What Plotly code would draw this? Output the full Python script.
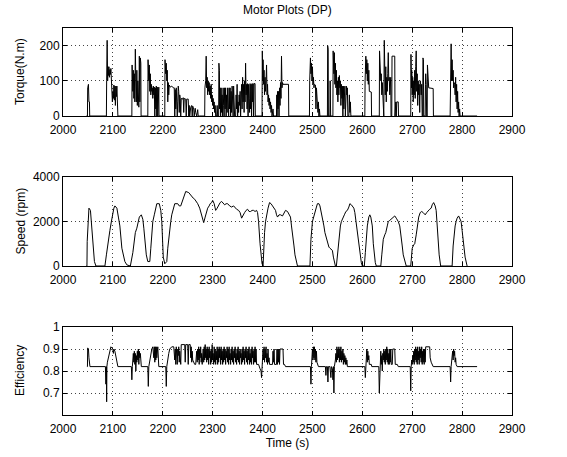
import plotly.graph_objects as go

# ---------------- data ----------------
torque_pts = [
    (2047,0),(2049,0),(2049.5,80),(2051,90),(2052,40),(2053,40),(2053.5,0),
    (2087,0),(2087.5,100),(2088.5,215),(2089.5,100),(2090,140),(2091,115),(2092,140),(2093,110),(2094,132),
    (2095,118),(2096,135),(2097,100),(2098,60),(2099,40),(2100,70),(2101,50),(2102,88),(2103,45),(2104,85),
    (2105,30),(2106,85),(2107,55),(2108,85),(2109,20),(2110,0),
    (2138,0),(2138.5,145),(2140,70),(2141,130),(2142,50),(2143,120),(2144,40),(2145,190),(2146,100),(2147,40),
    (2148,130),(2149,30),(2150,100),(2151,60),(2152,25),(2153,170),(2154,40),(2155,165),(2156,150),(2156.5,0),
    (2170,0),(2170.5,160),(2172,100),(2173,145),(2174,70),(2175,120),(2176,60),(2177,90),(2178,70),(2179,80),
    (2180,50),(2181,85),(2182,60),(2183,82),(2184,0),(2185,80),(2186,20),(2187,85),(2188,0),(2189,82),(2190,0),
    (2191,82),(2192,82),(2192.5,0),
    (2204,0),(2204.5,160),(2206,120),(2207,150),(2208,100),(2209,130),(2210,40),(2211,95),(2212,60),(2213,88),
    (2215,82),(2218,85),(2221,80),(2223,80),(2224,0),(2225,75),(2226,20),(2227,80),(2228,50),(2229,0),(2230,40),
    (2231,85),(2232,70),(2233,10),(2234,60),(2235,50),(2236,0),(2237,50),(2240,48),(2241,52),(2242,10),(2243,50),
    (2246,48),(2247,0),(2248,48),(2251,48),(2252,0),(2253,30),(2254,0),(2256,25),(2258,30),(2259,0),(2260,28),
    (2262,20),(2263,0),(2265,22),(2266,10),(2268,0),(2270,18),(2271,0),(2274,0),
    (2284,0),(2284.5,80),(2286,100),(2287,170),(2288,80),(2289,110),(2290,60),(2291,100),(2292,70),(2293,95),
    (2294,60),(2295,85),(2296,50),(2297,90),(2298,40),(2299,60),(2300,30),(2301,50),(2302,20),(2303,40),(2304,10),
    (2305,30),(2306,0),(2308,0),(2309,30),(2310,0),
    (2312,0),(2312.5,150),(2313.5,130),(2314,20),(2315,80),(2316,0),(2317,80),(2318,10),(2319,60),(2320,0),
    (2321,80),(2322,30),(2323,0),(2324,80),(2325,20),(2326,80),(2327,0),(2328,60),(2329,10),(2330,80),(2331,40),
    (2332,0),(2333,80),(2334,20),(2335,80),(2336,0),(2337,70),(2338,10),(2339,85),(2340,30),(2341,0),(2342,85),
    (2343,40),(2344,0),
    (2346,0),(2347,60),(2348,20),(2349,90),(2350,0),(2351,40),(2352,10),(2353,60),(2354,30),(2355,70),(2356,0),
    (2357,50),(2358,90),(2359,20),(2360,110),(2361,40),(2362,90),(2363,10),(2364,100),(2365,40),(2366,150),
    (2367,60),(2368,90),(2369,20),(2370,92),(2371,0),(2372,90),(2373,50),(2374,10),(2375,92),(2376,20),(2377,90),
    (2378,0),(2379,92),(2380,40),(2381,92),(2382,0),(2383,92),(2385,92),(2385.5,0),
    (2399,0),(2399.5,185),(2400.5,100),(2401,160),(2402,90),(2403,130),(2404,60),(2405,110),(2406,70),(2407,100),
    (2408,145),(2409,60),(2410,90),(2411,40),(2412,60),(2413,30),(2414,50),(2415,20),(2416,40),(2417,10),
    (2418,30),(2419,0),(2421,20),(2422,0),(2425,0),
    (2428,0),(2428.5,60),(2429,0),(2430,70),(2431,20),(2432,70),(2433,0),(2434,80),(2435,30),(2436,95),(2437,50),
    (2438,170),(2439,80),(2440,95),(2441,90),(2452,90),(2452.5,0),
    (2494,0),(2494.5,100),(2496,165),(2497,120),(2498,150),(2499,100),(2500,140),(2501,90),(2502,110),(2503,80),
    (2504,90),(2506,88),(2507,20),(2508,80),(2509,40),(2510,60),(2511,10),(2512,40),(2513,0),(2514,20),(2515,0),
    (2530,0),(2530.5,200),(2531.5,190),(2532,0),(2535,0),(2535.5,100),(2536.5,0),(2541,0),(2541.5,185),
    (2543,120),(2544,180),(2545,90),(2546,150),(2547,80),(2548,130),(2549,60),(2550,100),(2551,40),(2552,110),
    (2553,60),(2554,115),(2555,80),(2556,100),(2557,30),(2558,90),(2559,50),(2560,85),(2561,0),(2562,85),
    (2563,20),(2564,85),(2565,85),(2566,0),(2568,85),(2569,60),(2570,80),(2571,0),(2573,0),(2574,60),(2575,10),
    (2576,40),(2577,0),(2580,0),
    (2605,0),(2605.5,100),(2607,170),(2608,120),(2609,160),(2610,100),(2611,150),(2612,90),(2613,130),(2614,70),
    (2615,70),(2618,68),(2618.5,0),
    (2634,0),(2634.5,185),(2635.5,100),(2636,150),(2637,100),(2638,120),(2639,60),(2640,95),(2641,50),(2642,40),
    (2643,0),(2644,215),(2645,100),(2646,60),(2647,140),(2648,40),(2649,110),(2650,70),(2651,120),(2652,180),
    (2653,100),(2654,110),(2655,60),(2656,110),(2657,110),(2657.5,0),(2659,0),(2659.5,170),(2665,170),
    (2665.5,0),(2667,40),(2668,0),(2669,40),(2672,40),(2672.5,0),
    (2697,0),(2697.5,175),(2698.5,80),(2699,130),(2700,60),(2701,110),(2702,40),(2703,100),(2704,60),(2705,130),
    (2706,50),(2707,140),(2708,185),(2709,70),(2710,120),(2711,30),(2712,100),(2713,60),(2714,90),(2715,10),
    (2716,100),(2717,90),(2718,60),(2719,90),(2720,0),(2721,0),(2721.5,165),(2722.5,160),(2723,0),(2726,0),
    (2726.5,90),(2727,120),(2728,90),(2729,0),(2730,0),(2730.5,145),(2731.5,85),(2733,80),(2742,78),(2742.5,0),
    (2776,0),(2776.5,170),(2777.5,150),(2778,205),(2779,100),(2780,160),(2781,100),(2782,130),(2783,80),
    (2784,95),(2785,90),(2786,60),(2787,110),(2788,40),(2789,90),(2790,20),(2791,70),(2792,10),(2793,40),
    (2794,0),(2795,20),(2796,0),(2830,0),
]

speed_pts = [
    (2047,0),(2048,0),(2048.5,1100),(2050,2000),(2052,2600),(2055,2500),(2058,1600),(2060,1000),(2063,200),(2066,0),
    (2084,0),(2087,500),(2090,1100),(2094,1600),(2097,2000),(2100,2400),(2102,2600),(2104,2700),(2108,2600),
    (2111,2200),(2114,1800),(2118,800),(2121,400),(2124,200),(2128,50),(2132,0),
    (2135,0),(2140,600),(2145,1500),(2148,1700),(2153,2200),(2157,2300),(2160,2100),(2162,1700),(2165,900),
    (2167,500),(2170,200),(2174,200),(2176,800),(2178,1500),(2180,2000),(2183,2300),(2186,2600),(2188,2800),
    (2193,2800),(2196,2500),(2198,2000),(2199,1500),(2201,400),(2204,100),(2208,200),(2210,800),(2213,1500),
    (2216,2000),(2218,2300),(2221,2600),(2224,2800),(2230,2800),(2233,2700),(2236,2700),(2240,3000),
    (2243,3200),(2246,3350),(2252,3300),(2255,3200),(2258,3100),(2261,3050),(2264,3000),(2267,2900),
    (2270,2800),(2274,2600),(2277,2300),(2280,2000),(2282,1950),(2285,2200),(2288,2500),(2290,2600),
    (2293,2700),(2295,2800),(2298,2850),(2300,2950),(2303,2800),(2306,2500),(2309,2600),(2312,2750),
    (2315,2850),(2318,2900),(2321,2800),(2324,2750),(2327,2800),(2330,2800),(2334,2700),(2338,2650),
    (2342,2700),(2345,2600),(2348,2550),(2352,2500),(2355,2400),(2358,2150),(2361,2300),(2364,2400),
    (2367,2500),(2370,2550),(2373,2450),(2376,2450),(2379,2500),(2382,2500),(2385,2450),(2388,2500),
    (2390,2400),(2392,2000),(2395,1000),(2397,500),(2399,100),(2401,0),(2402,800),(2404,1500),(2406,2000),
    (2408,2300),(2411,2600),(2414,2850),(2417,2800),(2420,2700),(2423,2600),(2426,2500),(2428,2300),
    (2430,2200),(2433,2300),(2436,2300),(2440,2250),(2443,2400),(2446,2500),(2450,2450),(2453,2350),
    (2456,2200),(2458,1800),(2460,1500),(2463,900),(2465,500),(2468,150),(2470,0),
    (2495,0),(2497,1200),(2500,2000),(2503,2300),(2505,2400),(2508,2650),(2510,2800),(2513,2800),
    (2515,2700),(2518,2400),(2520,2200),(2523,1800),(2525,1500),(2528,1200),(2530,1000),(2533,850),
    (2535,800),(2538,750),(2540,700),(2542,400),(2543,300),(2546,0),
    (2548,0),(2550,500),(2552,1000),(2554,1500),(2556,1800),(2558,2000),(2561,2200),(2564,2300),(2567,2450),
    (2570,2500),(2573,2650),(2575,2800),(2578,2750),(2580,2700),(2583,2600),(2585,2400),(2588,1900),
    (2590,1500),(2593,900),(2595,500),(2598,150),(2600,0),
    (2604,0),(2606,600),(2608,1200),(2610,1800),(2613,2200),(2615,2300),(2617,2200),(2620,1800),(2622,1000),
    (2624,500),(2626,150),(2628,0),
    (2637,0),(2639,500),(2642,1200),(2645,1400),(2647,1500),(2650,1800),(2652,2000),(2655,2050),(2658,2100),
    (2662,2200),(2665,2250),(2668,2150),(2672,2000),(2675,1800),(2677,1500),(2680,900),(2682,500),
    (2685,200),(2688,0),
    (2697,0),(2699,500),(2700,800),(2703,950),(2705,1000),(2708,1400),(2710,1800),(2713,2200),(2716,2400),
    (2719,2450),(2722,2400),(2724,2350),(2726,2300),(2729,2400),(2732,2500),(2735,2550),(2738,2600),
    (2740,2750),(2743,2850),(2746,2700),(2748,2500),(2750,1800),(2752,1000),(2754,500),(2757,0),
    (2780,0),(2782,900),(2784,1600),(2786,1800),(2788,2000),(2790,2150),(2793,2250),(2796,2100),(2798,2000),
    (2800,1600),(2803,1000),(2806,400),(2810,0),
]

eff_pts = [
    (2048,0.82),(2049,0.82),(2049.5,0.905),(2051,0.90),(2052,0.86),(2053,0.83),(2054,0.82),(2085,0.82),
    (2086,0.74),(2087,0.82),(2087.5,0.66),(2088,0.82),(2089,0.84),(2090,0.85),(2092,0.87),(2094,0.89),
    (2096,0.91),(2098,0.905),(2100,0.90),(2101,0.88),(2102,0.90),(2104,0.89),(2106,0.86),(2108,0.85),
    (2110,0.82),(2137,0.82),(2138,0.76),(2139,0.82),(2140,0.86),(2141,0.88),(2142,0.84),(2143,0.89),
    (2144,0.83),(2145,0.88),(2146,0.80),(2147,0.87),(2148,0.84),(2149,0.89),(2150,0.85),(2151,0.90),
    (2152,0.83),(2153,0.89),(2154,0.86),(2155,0.88),(2156,0.84),(2157,0.82),(2170,0.82),(2171,0.73),
    (2172,0.82),(2174,0.85),(2176,0.87),(2178,0.90),(2180,0.91),(2182,0.86),(2183,0.91),(2184,0.84),
    (2185,0.91),(2186,0.85),(2187,0.91),(2188,0.86),(2190,0.91),(2191,0.84),(2192,0.82),(2206,0.82),
    (2207,0.73),(2208,0.82),(2210,0.86),(2212,0.88),(2214,0.90),(2218,0.91),(2222,0.91),(2224,0.85),
    (2225,0.90),(2226,0.83),(2227,0.91),(2228,0.86),(2229,0.83),(2230,0.90),(2231,0.87),(2232,0.91),
    (2233,0.84),(2234,0.89),(2235,0.85),(2236,0.83),(2237,0.92),(2244,0.92),(2245,0.84),(2246,0.92),
    (2250,0.92),(2251,0.83),(2252,0.92),(2255,0.92),(2256,0.86),(2257,0.91),(2258,0.84),(2259,0.89),
    (2260,0.85),(2262,0.84),(2264,0.83),(2266,0.83),
    (2268,0.89),(2269,0.84),(2270,0.90),(2271,0.85),(2272,0.91),(2273,0.83),(2274,0.90),(2275,0.86),
    (2276,0.91),(2277,0.84),(2278,0.88),(2279,0.83),(2280,0.86),(2281,0.90),(2282,0.84),(2283,0.91),
    (2284,0.85),(2285,0.92),(2286,0.86),(2287,0.90),(2288,0.84),(2289,0.91),(2290,0.85),(2291,0.90),
    (2292,0.83),(2293,0.91),(2294,0.86),(2295,0.89),(2296,0.83),(2297,0.90),(2298,0.84),(2299,0.92),
    (2300,0.85),(2301,0.88),(2302,0.83),(2303,0.91),(2304,0.84),(2305,0.90),(2306,0.83),(2307,0.89),
    (2308,0.85),(2309,0.91),(2310,0.83),(2311,0.90),(2312,0.84),(2313,0.91),(2314,0.86),(2315,0.90),
    (2316,0.83),(2317,0.91),(2318,0.85),(2319,0.89),(2320,0.83),(2321,0.90),(2322,0.84),(2323,0.91),
    (2324,0.85),(2325,0.90),(2326,0.83),(2327,0.89),(2328,0.86),(2329,0.91),(2330,0.84),(2331,0.90),
    (2332,0.83),(2333,0.91),(2334,0.85),(2335,0.88),(2336,0.83),(2337,0.90),(2338,0.85),(2339,0.91),
    (2340,0.84),(2341,0.89),(2342,0.83),(2343,0.90),(2344,0.86),(2345,0.91),(2346,0.84),(2347,0.88),
    (2348,0.83),(2349,0.90),(2350,0.85),(2351,0.91),(2352,0.84),(2353,0.89),(2354,0.83),(2355,0.90),
    (2356,0.86),(2357,0.88),(2358,0.83),(2359,0.90),(2360,0.84),(2361,0.91),(2362,0.85),(2363,0.89),
    (2364,0.83),(2365,0.90),(2366,0.86),(2367,0.91),(2368,0.84),(2369,0.89),(2370,0.83),(2371,0.90),
    (2372,0.85),(2373,0.91),(2374,0.83),(2375,0.88),(2376,0.84),(2377,0.90),(2378,0.83),(2379,0.91),
    (2380,0.86),(2381,0.89),(2382,0.83),(2383,0.90),(2384,0.84),(2385,0.91),(2386,0.84),(2387,0.90),
    (2388,0.83),(2389,0.83),(2392,0.83),(2395,0.81),(2397,0.80),(2398,0.77),(2399,0.82),(2400,0.86),
    (2401,0.90),(2402,0.85),(2403,0.91),(2404,0.84),(2405,0.90),(2406,0.86),(2407,0.91),(2408,0.84),
    (2409,0.88),(2410,0.83),(2411,0.90),(2412,0.84),(2413,0.86),(2414,0.83),(2420,0.83),(2421,0.89),
    (2422,0.84),(2423,0.90),(2424,0.83),(2428,0.83),(2429,0.90),(2430,0.83),(2431,0.90),(2432,0.84),
    (2433,0.90),(2434,0.83),(2435,0.90),(2441,0.90),(2442,0.83),(2444,0.83),(2446,0.82),
    (2496,0.82),(2497,0.74),(2498,0.82),(2499,0.86),(2500,0.90),(2501,0.85),(2502,0.91),(2503,0.86),
    (2504,0.91),(2505,0.85),(2506,0.90),(2507,0.84),(2508,0.89),(2509,0.84),(2510,0.83),(2512,0.82),
    (2526,0.82),(2527,0.78),(2528,0.82),(2530,0.82),(2531,0.75),(2532,0.82),(2535,0.82),(2536,0.80),
    (2537,0.77),(2538,0.82),(2540,0.81),(2541,0.76),(2542,0.82),(2543,0.70),(2544,0.82),(2546,0.85),
    (2547,0.88),(2548,0.84),(2549,0.91),(2550,0.85),(2551,0.90),(2552,0.86),(2553,0.91),(2554,0.84),
    (2555,0.90),(2556,0.85),(2557,0.91),(2558,0.84),(2559,0.89),(2560,0.85),(2561,0.90),(2562,0.83),
    (2563,0.88),(2564,0.84),(2565,0.87),(2566,0.83),(2567,0.86),(2568,0.83),(2569,0.85),(2570,0.82),
    (2605,0.82),(2606,0.77),(2607,0.82),(2608,0.86),(2609,0.90),(2610,0.84),(2611,0.89),(2612,0.85),
    (2613,0.87),(2614,0.83),(2618,0.83),(2619,0.82),(2633,0.82),(2634,0.70),(2635,0.82),(2636,0.86),
    (2637,0.89),(2638,0.83),(2639,0.87),(2640,0.80),(2641,0.88),(2642,0.85),(2643,0.90),(2644,0.84),
    (2645,0.89),(2646,0.83),(2647,0.90),(2648,0.85),(2649,0.91),(2650,0.84),(2651,0.90),(2652,0.83),
    (2653,0.88),(2654,0.83),(2655,0.90),(2656,0.84),(2657,0.90),(2658,0.83),(2660,0.83),(2661,0.90),
    (2665,0.90),(2666,0.83),(2670,0.83),(2672,0.82),(2696,0.82),(2697,0.71),(2698,0.82),(2699,0.85),
    (2700,0.83),(2701,0.87),(2702,0.84),(2703,0.89),(2704,0.83),(2705,0.90),(2706,0.85),(2707,0.91),
    (2708,0.84),(2709,0.90),(2710,0.83),(2711,0.91),(2712,0.85),(2713,0.89),(2714,0.83),(2715,0.91),
    (2716,0.86),(2717,0.90),(2718,0.84),(2719,0.91),(2720,0.83),(2721,0.89),(2722,0.84),(2723,0.90),
    (2724,0.83),(2725,0.90),(2726,0.84),(2727,0.91),(2735,0.91),(2736,0.86),(2738,0.84),(2740,0.83),
    (2742,0.82),(2776,0.82),(2777,0.75),(2778,0.82),(2780,0.86),(2781,0.89),(2782,0.85),(2783,0.90),
    (2784,0.87),(2785,0.89),(2786,0.84),(2787,0.86),(2788,0.83),(2790,0.82),(2830,0.82),
]

x_ticks = [2000, 2100, 2200, 2300, 2400, 2500, 2600, 2700, 2800, 2900]
torque_ticks = [0, 100, 200]
speed_ticks = [0, 2000, 4000]
eff_ticks = [0.7, 0.8, 0.9, 1]
eff_tick_labels = ["0.7", "0.8", "0.9", "1"]

title_text = "Motor Plots (DP)"
y_titles = ["Torque(N.m)", "Speed (rpm)", "Efficiency"]
x_title = "Time (s)"

# ---------------- figure ----------------
W, H = 567, 457
L, R, T, B = 63, 55, 28, 42
ph = H - T - B  # plot height px

def pdom(top, bot):
    # top/bot in absolute pixel coords
    return [(H - B - bot) / ph, (H - B - top) / ph]

FONT = "Liberation Sans, Arial, Helvetica, sans-serif"
FS = 12

fig = go.Figure()
for pts, ya in [(torque_pts, "y"), (speed_pts, "y2"), (eff_pts, "y3")]:
    xa = "x" if ya == "y" else "x" + ya[1:]
    fig.add_trace(go.Scatter(
        x=[p[0] for p in pts], y=[p[1] for p in pts], mode="lines",
        line=dict(color="black", width=1), xaxis=xa, yaxis=ya,
        showlegend=False, hoverinfo="skip"))

axis_common = dict(
    showline=True, linecolor="black", linewidth=1, mirror="allticks",
    ticks="inside", ticklen=4, tickcolor="black",
    showgrid=True, gridcolor="#444444", griddash="1px,3px", gridwidth=1,
    zeroline=False, tickfont=dict(family=FONT, size=FS, color="black"),
)

xax = dict(axis_common, range=[2000, 2900], tickvals=x_ticks, ticklabelstandoff=3)
fig.update_layout(
    width=W, height=H,
    margin=dict(l=L, r=R, t=T, b=B),
    paper_bgcolor="white", plot_bgcolor="white",
    font=dict(family=FONT, size=FS, color="black"),
    xaxis=dict(xax, anchor="y"),
    xaxis2=dict(xax, anchor="y2"),
    xaxis3=dict(xax, anchor="y3",
                title=dict(text=x_title, font=dict(family=FONT, size=FS, color="black"), standoff=1)),
    yaxis=dict(axis_common, range=[0, 250], tickvals=torque_ticks, domain=pdom(28, 116), anchor="x"),
    yaxis2=dict(axis_common, range=[0, 4000], tickvals=speed_ticks, domain=pdom(177, 266), anchor="x2"),
    yaxis3=dict(axis_common, range=[0.6, 1.0], tickvals=eff_ticks, ticktext=eff_tick_labels,
                domain=pdom(327, 415), anchor="x3"),
)

anns = [dict(text=title_text, x=0.5, y=(H - B - 10) / ph, xref="paper", yref="paper",
             showarrow=False, font=dict(family=FONT, size=FS, color="black"),
             xanchor="center", yanchor="middle")]
for txt, cy in zip(y_titles, [(28 + 116) / 2, (177 + 266) / 2, (327 + 415) / 2]):
    anns.append(dict(text=txt, textangle=-90, x=(20 - L) / (W - L - R), y=(H - B - cy) / ph,
                     xref="paper", yref="paper", showarrow=False,
                     font=dict(family=FONT, size=FS, color="black"),
                     xanchor="center", yanchor="middle"))
fig.update_layout(annotations=anns)

fig.write_html("out.html")
